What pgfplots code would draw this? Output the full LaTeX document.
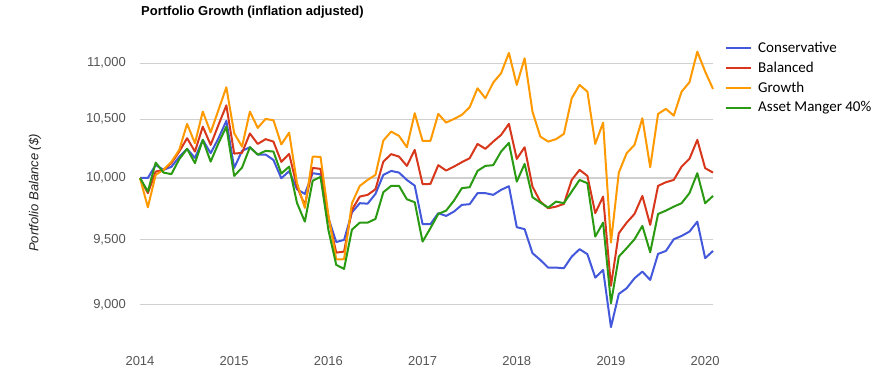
\documentclass[border=0pt]{standalone}
\usepackage{fontspec}
\setmainfont{Liberation Sans}
\newfontfamily\carlito{Carlito}
\usepackage{pgfplots}
\usepackage{pgfplotstable}
\pgfplotsset{compat=1.18}
\definecolor{gcblue}{HTML}{4358DB}
\definecolor{gcred}{HTML}{D7371B}
\definecolor{gcorange}{HTML}{FF9900}
\definecolor{gcgreen}{HTML}{2A9A12}
\definecolor{gridgray}{HTML}{D0D0D0}
\definecolor{ticklab}{HTML}{555555}
\definecolor{ylab}{HTML}{222222}

\pgfplotstableread{
m cons bal grow am
0 10000 10000 10000 10000
1 10000 9875 9760 9888
2 10109 10053 10026 10129
3 10068 10068 10068 10045
4 10093 10124 10135 10032
5 10177 10222 10236 10157
6 10245 10336 10460 10245
7 10168 10222 10293 10124
8 10322 10436 10567 10322
9 10208 10279 10386 10137
10 10336 10451 10582 10293
11 10486 10622 10783 10436
12 10084 10205 10379 10017
13 10228 10211 10264 10087
14 10259 10377 10567 10259
15 10197 10287 10425 10196
16 10197 10328 10503 10228
17 10151 10307 10492 10222
18 9998 10135 10283 10037
19 10057 10202 10384 10095
20 9907 9929 9959 9795
21 9869 9777 9755 9644
22 10040 10084 10179 9978
23 10030 10076 10177 10009
24 9674 9674 9698 9578
25 9482 9399 9346 9304
26 9499 9407 9348 9273
27 9718 9739 9793 9580
28 9793 9847 9935 9636
29 9789 9861 9984 9636
30 9869 9907 10026 9666
31 10026 10137 10316 9883
32 10059 10200 10393 9935
33 10045 10179 10356 9935
34 9984 10101 10259 9825
35 9937 10236 10553 9801
36 9624 9949 10313 9485
37 9624 9951 10313 9592
38 9712 10107 10547 9706
39 9690 10062 10471 9733
40 9725 10095 10503 9814
41 9779 10132 10538 9916
42 9785 10166 10606 9924
43 9875 10287 10774 10059
44 9875 10245 10685 10101
45 9861 10307 10825 10107
46 9902 10364 10909 10222
47 9932 10460 11095 10296
48 9600 10160 10804 9970
49 9584 10259 11046 10118
50 9395 9929 10567 9842
51 9342 9806 10350 9798
52 9283 9752 10307 9757
53 9283 9765 10328 9806
54 9278 9787 10373 9793
55 9368 9984 10685 9888
56 9426 10068 10804 9984
57 9387 10017 10744 9957
58 9206 9712 10287 9525
59 9265 9847 10471 9636
60 8835 9143 9478 9012
61 9082 9552 10045 9368
62 9125 9636 10208 9434
63 9201 9706 10279 9504
64 9252 9852 10509 9610
65 9188 9618 10090 9402
66 9389 9935 10547 9706
67 9412 9965 10591 9733
68 9504 9984 10532 9765
69 9530 10095 10744 9793
70 9565 10160 10828 9875
71 9644 10322 11107 10040
72 9356 10082 10924 9793
73 9412 10045 10768 9852
}\portfolio

\begin{document}
\begin{tikzpicture}[x=1pt,y=1pt]
\path[use as bounding box] (0,0) rectangle (877,-385);
\node[anchor=west, inner sep=0pt, font=\bfseries\fontsize{13}{15}\selectfont] at (141,-12) {Portfolio Growth (inflation adjusted)};
\node[rotate=90, inner sep=0pt, color=ylab, font=\itshape\fontsize{13}{15}\selectfont] at (35,-193) {Portfolio Balance (\$)};
\begin{axis}[
  at={(140pt,-340pt)}, anchor=south west,
  scale only axis, width=573pt, height=300pt,
  xmin=0, xmax=73, ymode=log, ymin=8742, ymax=11216,
  axis line style={draw=none}, major tick length=0pt,
  yminorticks=false, xminorticks=false,
  ymajorgrids, grid style={color=gridgray, line width=1.2pt},
  ytick={9000,9500,10000,10500,11000},
  yticklabels={{9,000},{9,500},{10,000},{10,500},{11,000}},
  xtick={0,12,24,36,48,60,72},
  xticklabels={2014,2015,2016,2017,2018,2019,2020},
  tick label style={font=\fontsize{13}{15}\selectfont, color=ticklab},
  yticklabel style={anchor=east, inner sep=0pt, xshift=-14pt},
  xticklabel style={anchor=center, inner sep=0pt, yshift=-21pt},
  clip=false,
  legend style={at={(1.021,1.0)}, anchor=north west, draw=none, fill=none,
    font=\carlito\fontsize{15}{18}\selectfont, row sep=4pt, inner sep=0pt,
    /tikz/every odd column/.append style={column sep=4pt}},
  legend cell align=left,
  legend image code/.code={\draw[#1] (0pt,0pt) -- (25pt,0pt);},
  every axis plot/.append style={line width=2pt, line join=round},
]
\addplot[gcblue] table[x=m, y=cons] {\portfolio};
\addlegendentry{Conservative}
\addplot[gcred] table[x=m, y=bal] {\portfolio};
\addlegendentry{Balanced}
\addplot[gcorange] table[x=m, y=grow] {\portfolio};
\addlegendentry{Growth}
\addplot[gcgreen] table[x=m, y=am] {\portfolio};
\addlegendentry{Asset Manger 40\%}
\end{axis}
\end{tikzpicture}
\end{document}
